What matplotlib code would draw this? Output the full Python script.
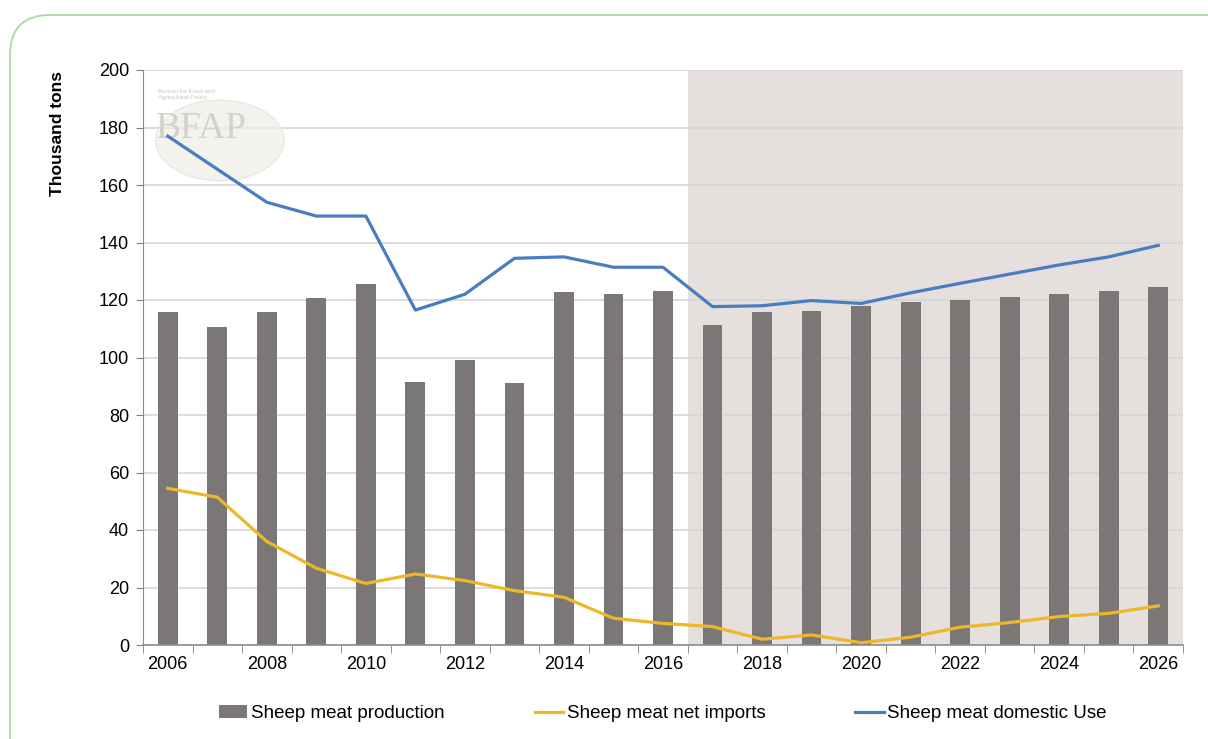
import numpy as np
import matplotlib.pyplot as plt
from matplotlib.patches import FancyBboxPatch, Ellipse

# data (thousand tons)
years = list(range(2006, 2027))
production = [116, 110.7, 116, 120.6, 125.4, 91.6, 99.1, 91.0, 122.7, 122, 123.1,
              111.3, 116, 116.2, 117.9, 119.4, 120, 121.2, 122.2, 123.2, 124.4]
net_imports = [54.5, 51.4, 36, 26.7, 21.4, 24.7, 22.4, 18.9, 16.6, 9.3, 7.5,
               6.4, 2.0, 3.5, 0.8, 2.7, 6.2, 7.8, 9.9, 11.0, 13.6]
domestic_use = [177, 165.5, 154, 149.2, 149.2, 116.5, 122, 134.5, 135, 131.4, 131.4,
                117.7, 118, 119.8, 118.8, 122.5, 125.8, 129, 132.2, 135, 139]
first_projection = 2017

plt.rcParams['font.family'] = ['Liberation Sans', 'DejaVu Sans']

fig = plt.figure(figsize=(12.08, 7.39), dpi=100)

# rounded green frame round the page (pixel coords)
frame = FancyBboxPatch((10, -100), 1400, 739 - 15 + 100,
                       boxstyle='round,pad=0,rounding_size=40',
                       transform=None, fill=False,
                       edgecolor='#a9d8a8', linewidth=1.3, zorder=0)
fig.patches.append(frame)

ax = fig.add_axes([143 / 1208, 1 - 645 / 739, (1183 - 143) / 1208, (645 - 70) / 739])
x = np.arange(len(years))

# projection period shading
p0 = years.index(first_projection) - 0.5
ax.axvspan(p0, len(years) - 0.5, color='#e5dfdd', zorder=0, lw=0)

bars = ax.bar(x, production, width=0.4, color='#7b7776', zorder=2, label='Sheep meat production')
l1, = ax.plot(x, net_imports, color='#ecb82a', lw=2.3, zorder=3, label='Sheep meat net imports')
l2, = ax.plot(x, domestic_use, color='#4a7cc0', lw=2.3, zorder=4, label='Sheep meat domestic Use')

ax.set_xlim(-0.5, len(years) - 0.5)
ax.set_ylim(0, 200)
ax.set_yticks(np.arange(0, 201, 20))
ax.yaxis.grid(True, color='#d6d6d6', lw=1.2, zorder=1)
ax.set_axisbelow(True)

ax.set_xticks(x[::2])
ax.set_xticklabels([str(y) for y in years[::2]])
ax.set_xticks(np.arange(-0.5, len(years), 1), minor=True)
ax.tick_params(axis='x', which='major', length=0, pad=8, labelsize=13)
ax.tick_params(axis='x', which='minor', length=6, color='#808080', direction='out')
ax.tick_params(axis='y', length=5, color='#808080', labelsize=13, pad=5)

for s in ['top', 'right']:
    ax.spines[s].set_visible(False)
ax.spines['left'].set_color('#8c8c8c')
ax.spines['bottom'].set_color('#8c8c8c')
ax.spines['bottom'].set_linewidth(1.2)

ax.set_ylabel('Thousand tons', fontsize=12.5, fontweight='bold')
ax.yaxis.set_label_coords(-0.075, 0.889)

# faint BFAP watermark
ax.add_patch(Ellipse((1.05, 175.5), 2.6, 28, facecolor='#f0ede8', edgecolor='#e6e2dc',
                     alpha=0.7, zorder=1))
ax.text(-0.25, 176.5, 'BFAP', fontsize=27, family='Liberation Serif', color='#d4d1cc',
        zorder=1.5)
ax.text(-0.2, 190, 'Bureau for Food and\nAgricultural Policy', fontsize=4.5,
        color='#c8c6c2', zorder=1.5, linespacing=1.1)

ax.legend([bars, l1, l2], [bars.get_label(), l1.get_label(), l2.get_label()],
          loc='upper center', bbox_to_anchor=(0.5, -0.075), ncol=3, frameon=False,
          fontsize=13.5, handlelength=1.5, handletextpad=0.2, columnspacing=4.8)

fig.savefig('out.png', dpi=100)
